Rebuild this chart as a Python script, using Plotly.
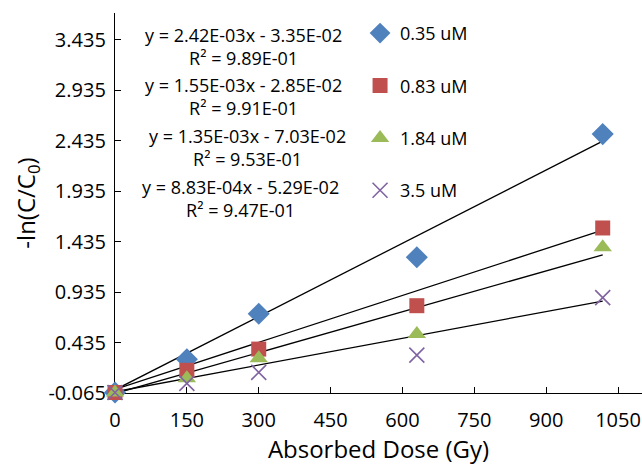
import plotly.graph_objects as go
import numpy as np

# Data
dose = [0, 150, 300, 630, 1018]
series_names = ["0.35 uM", "0.83 uM", "1.84 uM", "3.5 uM"]
y_035 = [-0.06, 0.27, 0.72, 1.28, 2.50]
y_083 = [-0.06, 0.16, 0.37, 0.80, 1.57]
y_184 = [-0.06, 0.08, 0.28, 0.52, 1.38]
y_35 = [-0.06, 0.03, 0.14, 0.31, 0.88]

slopes = [2.42e-03, 1.55e-03, 1.35e-03, 8.83e-04]
intercepts = [-3.35e-02, -2.85e-02, -7.03e-02, -5.29e-02]
eq_labels = ["y = 2.42E-03x - 3.35E-02", "y = 1.55E-03x - 2.85E-02",
             "y = 1.35E-03x - 7.03E-02", "y = 8.83E-04x - 5.29E-02"]
r2_labels = ["R² = 9.89E-01", "R² = 9.91E-01", "R² = 9.53E-01", "R² = 9.47E-01"]

x_ticks = [0, 150, 300, 450, 600, 750, 900, 1050]
y_ticks = [-0.065, 0.435, 0.935, 1.435, 1.935, 2.435, 2.935, 3.435]

colors = ["#4F81BD", "#C0504D", "#9BBB59", "#8064A2"]
symbols = ["diamond", "square", "triangle-up", "x-thin-open"]
sizes = [17, 15, 16, 15]
ys = [y_035, y_083, y_184, y_35]

fig = go.Figure()

# trendlines
xl = np.array([dose[0], dose[-1]], dtype=float)
for m, b in zip(slopes, intercepts):
    fig.add_trace(go.Scatter(x=xl, y=m * xl + b, mode="lines",
                             line=dict(color="black", width=1.3),
                             showlegend=False, hoverinfo="skip"))

for i, (name, y) in enumerate(zip(series_names, ys)):
    marker = dict(color=colors[i], size=sizes[i], symbol=symbols[i])
    if symbols[i] == "x-thin-open":
        marker["line"] = dict(color=colors[i], width=1.6)
    fig.add_trace(go.Scatter(x=dose, y=y, mode="markers", name=name,
                             marker=marker, cliponaxis=False,
                             legendgroup=name))

# equations
eq_x = [0.243, 0.243, 0.251, 0.239]
eq_y = [0.912, 0.779, 0.645, 0.512]
for i in range(4):
    fig.add_annotation(xref="paper", yref="paper", x=eq_x[i], y=eq_y[i],
                       xanchor="center", yanchor="middle",
                       text=eq_labels[i] + "<br>" + r2_labels[i],
                       showarrow=False, align="center",
                       font=dict(family="Open Sans", size=18, color="#000000"))

fig.update_layout(
    width=642, height=465,
    margin=dict(l=115, r=0, t=13, b=72),
    paper_bgcolor="white", plot_bgcolor="white",
    font=dict(family="Open Sans", size=20, color="#000000"),
    legend=dict(x=0.465, y=0.995, xanchor="left", yanchor="top",
                font=dict(family="Open Sans", size=18),
                tracegroupgap=26, itemwidth=30,
                bgcolor="rgba(0,0,0,0)"),
    xaxis=dict(range=[0, 1100], tickvals=x_ticks, ticktext=[str(v) for v in x_ticks],
               showline=True, linecolor="black", linewidth=1.3,
               ticks="inside", ticklen=6, tickcolor="black",
               ticklabelstandoff=9,
               showgrid=False, zeroline=False, layer="below traces",
               title=dict(text="Absorbed Dose (Gy)", font=dict(size=24), standoff=8)),
    yaxis=dict(range=[-0.065, 3.70], tickvals=y_ticks,
               ticktext=["%.3f" % v for v in y_ticks],
               showline=True, linecolor="black", linewidth=1.3,
               ticks="inside", ticklen=6, tickcolor="black",
               ticklabelstandoff=4,
               showgrid=False, zeroline=False, layer="below traces",
               title=dict(text="-ln(C/C<sub>0</sub>)", font=dict(size=24), standoff=6)),
)

fig.write_html("out.html")
